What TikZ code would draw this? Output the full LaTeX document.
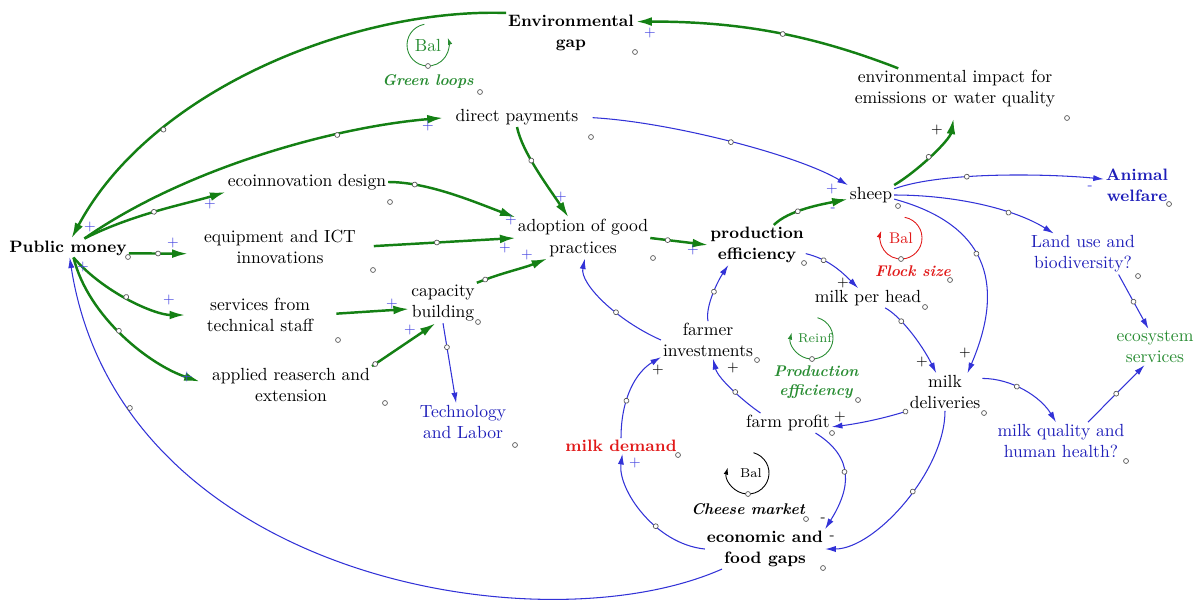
\documentclass[tikz,border=0pt]{standalone}
\usepackage{tikz}
\usetikzlibrary{arrows.meta, decorations.markings}
\definecolor{greenlink}{RGB}{20,128,20}
\definecolor{bluelink}{RGB}{50,50,215}
\definecolor{bluetext}{RGB}{30,30,185}
\definecolor{redtext}{RGB}{225,25,25}
\definecolor{greentext}{RGB}{40,140,50}
\definecolor{signblue}{RGB}{70,70,225}

\begin{document}
\begin{tikzpicture}[
    x=0.02cm, y=-0.02cm,
    var/.style={align=center, inner sep=1pt, font=\fontsize{10}{12}\selectfont},
    keyvar/.style={var, font=\fontsize{9.4}{12}\selectfont\bfseries},
    looplbl/.style={align=center, inner sep=1pt, font=\fontsize{8.8}{10.5}\selectfont\bfseries\itshape},
    pol/.style={inner sep=0pt, font=\fontsize{8}{8}\selectfont},
    glink/.style={draw=greenlink, line width=1.4pt, -{Latex[length=9pt,width=5pt]}},
    blink/.style={draw=bluelink, line width=0.6pt, -{Latex[length=6pt,width=3.5pt]}},
    loopline/.style={line width=0.5pt, -{Latex[length=4pt,width=2.6pt]}},
    vdot/.style={draw=black!65, fill=white, line width=0.4pt},
    hd/.style={postaction={decorate, decoration={markings,
        mark=at position #1 with {\draw[vdot] (0,0) circle (1.4pt);}}}}
]
\useasboundingbox (0,0) rectangle (1195,605);

% variables
\node[keyvar] (pm) at (68,248) {Public money};
\node[keyvar] (eg) at (571,33) {Environmental\\gap};
\node[var] (dp) at (517,117) {direct payments};
\node[var] (ei) at (955,89) {environmental impact for\\emissions or water quality};
\node[var] (eco) at (307,182) {ecoinnovation design};
\node[var] (eq) at (280,247) {equipment and ICT\\innovations};
\node[var] (svc) at (260,315) {services from\\technical staff};
\node[var] (app) at (291,385) {applied reaserch and\\extension};
\node[var] (cap) at (443,303) {capacity\\building};
\node[var, text=bluetext] (tech) at (463,422) {Technology\\and Labor};
\node[var] (adop) at (583,238) {adoption of good\\practices};
\node[keyvar] (pe) at (757,245) {production\\efficiency};
\node[var] (sheep) at (871,195) {sheep};
\node[keyvar, text=bluetext] (aw) at (1137,185) {Animal\\welfare};
\node[var, text=bluetext] (land) at (1083,254) {Land use and\\biodiversity?};
\node[var] (mph) at (868,298) {milk per head};
\node[var, text=greentext] (eserv) at (1155,347) {ecosystem\\services};
\node[var] (fi) at (708,340) {farmer\\investments};
\node[var] (md) at (945,392) {milk\\deliveries};
\node[var] (fp) at (788,423) {farm profit};
\node[var, text=bluetext] (mq) at (1061,441) {milk quality and\\human health?};
\node[keyvar, text=redtext] (mdem) at (621,446) {milk demand};
\node[keyvar] (gaps) at (765,549) {economic and\\food gaps};

% loops
\node[inner sep=0pt, font=\fontsize{10}{10}\selectfont, text=greentext] (bgreen) at (428,45) {Bal};
\draw[loopline, greentext] (bgreen.center) ++(-100:21) arc[start angle=-100, end angle=-380, radius=21];
\node[inner sep=0pt, font=\fontsize{8.8}{9}\selectfont, text=redtext] (bflock) at (901,238) {Bal};
\draw[loopline, redtext] (bflock.center) ++(-80:21) arc[start angle=-80, end angle=200, radius=21];
\node[inner sep=0pt, font=\fontsize{7.3}{8}\selectfont, text=greentext] (breinf) at (815,338) {Reinf};
\draw[loopline, greentext] (812,338) ++(-75:21) arc[start angle=-75, end angle=195, radius=21];
\node[inner sep=0pt, font=\fontsize{7.3}{8}\selectfont] (bcheese) at (751,473) {Bal};
\draw[loopline] (748,473) ++(-75:21) arc[start angle=-75, end angle=195, radius=21];
\node[looplbl, text=greentext] (lgreen) at (428,82) {Green loops};
\node[looplbl, text=redtext] (lflock) at (913,271) {Flock size};
\node[looplbl, text=greentext] (lprod) at (816,382) {Production\\efficiency};
\node[looplbl] (lcheese) at (748,509) {Cheese market};

% green links
\draw[glink, hd=0.72] (eg.north west) .. controls +(-150,-5) and +(80,-150) .. (pm.70);
\draw[glink, hd=0.45] (ei.160) .. controls +(-90,-35) and +(100,0) .. (eg.10);
\draw[glink, shorten >=6pt, hd=0.7] (pm.30) .. controls +(100,-70) and +(-120,10) .. (dp.west);
\draw[glink, hd=0.5] (pm.30) .. controls +(50,-25) and +(-40,12) .. (eco.south west);
\draw[glink, shorten >=8pt, hd=0.4] (pm.-5) -- (eq.-175);
\draw[glink, shorten >=11pt, hd=0.45] (pm.-60) .. controls +(30,35) and +(-50,0) .. (svc.west);
\draw[glink, shorten >=6pt, hd=0.45] (pm.-60) .. controls +(15,60) and +(-60,-20) .. (app.west);
\draw[glink, hd=0.35] (dp.south) .. controls +(5,25) and +(-20,-30) .. (adop.125);
\draw[glink, hd=0.2] (eco.east) .. controls +(40,0) and +(-40,-15) .. (adop.north west);
\draw[glink, shorten <=9pt, hd=0.5] (eq.east) -- (adop.west);
\draw[glink, hd=0.12] (cap.north east) .. controls +(25,-10) and +(-25,10) .. (adop.-150);
\draw[glink, shorten <=12pt] (svc.east) -- (cap.-170);
\draw[glink, hd=0.05] (app.north east) -- (cap.-110);
\draw[glink, hd=0.3] (adop.east) -- (pe.west);
\draw[glink, hd=0.35] (pe.50) .. controls +(15,-15) and +(-25,5) .. (sheep.-170);
\draw[glink, shorten >=5pt, hd=0.45] (sheep.north east) .. controls +(25,-15) and +(-5,30) .. (ei.south);

% blue links
\draw[blink, hd=0.3] (cap.south) -- (tech.110);
\draw[blink, shorten <=7pt, hd=0.55] (dp.east) .. controls +(90,5) and +(-50,-30) .. (sheep.north west);
\draw[blink, hd=0.35] (sheep.15) .. controls +(50,-18) and +(-50,-5) .. (aw.170);
\draw[blink, hd=0.7] (sheep.east) .. controls +(60,0) and +(-40,-25) .. (land.145);
\draw[blink, hd=0.45] (sheep.-10) .. controls +(110,30) and +(30,-70) .. (md.40);
\draw[blink, hd=0.3] (pe.-10) .. controls +(20,5) and +(-20,-20) .. (mph.135);
\draw[blink, hd=0.25] (mph.-30) .. controls +(15,8) and +(-15,-30) .. (md.115);
\draw[blink, hd=0.5] (land.-30) -- (eserv.110);
\draw[blink, hd=0.4] (md.20) .. controls +(30,0) and +(-15,-25) .. (mq.105);
\draw[blink, hd=0.5] (mq.35) -- (eserv.-120);
\draw[blink, hd=0.03] (md.south west) .. controls +(-25,8) and +(25,-3) .. (fp.-5);
\draw[blink, hd=0.45] (fp.160) .. controls +(-15,-10) and +(5,20) .. (fi.-75);
\draw[blink, hd=0.5] (fi.north) .. controls +(-3,-15) and +(-10,15) .. (pe.-145);
\draw[blink, hd=0.45] (fi.west) .. controls +(-45,-20) and +(-5,25) .. (adop.-85);
\draw[blink, hd=0.4] (mdem.north) .. controls +(0,-40) and +(-25,15) .. (fi.-160);
\draw[blink, hd=0.4] (gaps.west) .. controls +(-50,-5) and +(-5,35) .. (mdem.-80);
\draw[blink, hd=0.45] (fp.-20) .. controls +(40,25) and +(25,-40) .. (gaps.north east);
\draw[blink, hd=0.45] (md.south) .. controls +(0,60) and +(50,0) .. (gaps.east);
\draw[blink, hd=0.8] (gaps.-155) .. controls +(-180,80) and +(50,321) .. (pm.-80);

% polarity signs
\foreach \x/\y/\s/\c [count=\i] in {650/33/+/signblue, 90/227/+/signblue, 428/126/+/signblue,
    210/204/+/signblue, 173/243/+/signblue, 169/300/+/signblue, 187/377/+/signblue,
    561/197/+/signblue, 511/220/+/signblue, 505/248/+/signblue, 527/255/+/signblue,
    392/304/+/signblue, 410/330/+/signblue, 693/250/+/signblue, 832/189/+/signblue,
    83/267/+/signblue, 635/463/+/signblue, 833/210/-/signblue, 1090/188/-/signblue,
    937/130/+/black, 843/283/+/black, 922/362/+/black, 965/353/+/black, 840/417/+/black,
    733/368/+/black, 658/370/+/black, 823/520/-/black, 832/538/-/black}
  \node[pol, text=\c] (sg\i) at (\x,\y) {\s};

% variable handles
\foreach \x/\y in {635/52, 480/92, 591/137, 1067/118, 390/202, 373/270, 128/257, 653/258,
    804/263, 898/206, 1169/204, 1138/276, 950/280, 925/307, 757/360, 858/400, 984/413,
    832/433, 1126/461, 678/455, 806/519, 823/568, 478/322, 338/340, 385/403, 515/445,
    428/66, 901/259, 812/359, 748/494}
  \draw[vdot] (\x,\y) circle (1.4pt);

\end{tikzpicture}
\end{document}
